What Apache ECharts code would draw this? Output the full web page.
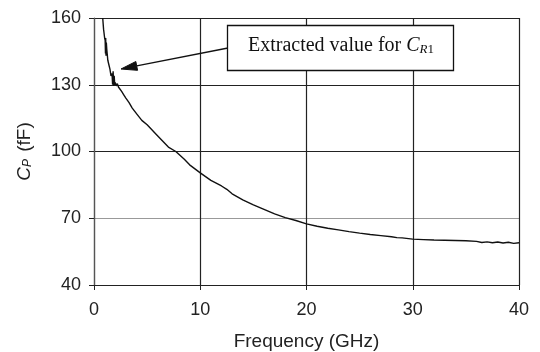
<!DOCTYPE html>
<html lang="en">
<head>
<meta charset="UTF-8">
<title>CP vs frequency</title>
<script src="https://cdn.jsdelivr.net/npm/echarts@6/dist/echarts.min.js"></script>
<style>html,body{margin:0;padding:0;background:#fff;}</style>
</head>
<body>
<div id="main" style="width:540px;height:352px;"></div>
<script>
// values
var freq = [0.82,0.9,1.0,1.05,1.08,1.1,1.13,1.16,1.2,1.3,1.4,1.5,1.6,1.7,1.75,1.8,1.85,1.9,1.95,2.0,2.1,2.2,2.3,2.4,2.6,2.8,3.0,3.3,3.6,4.0,4.5,5.0,5.6,6.0,6.5,7.0,7.7,8.5,9.0,10,11,12,12.5,13,14,15,16,17,18,19,20,21,22,23,24,25,26,27,28,28.5,29,30,31,32,33,34,35,36,36.5,37,37.5,38,38.5,39,39.5,40];
var cp = [160,155,151,150,144,151,143,149,146,141,139,137,134,135,130,136,129.5,134,130,131,129.5,130.5,129,128.5,127,125.5,124,122,119.5,117,114,112,109,107,104.5,102,100,96.5,94,90.4,87,84.5,83,81,78.3,76,74,72,70.3,69,67.5,66.4,65.5,64.8,64,63.3,62.7,62.2,61.7,61.3,61.2,60.6,60.4,60.2,60.1,60,59.9,59.6,59.1,59.4,59,59.3,58.9,59.2,58.7,59];
var yTicks = [40, 70, 100, 130, 160];
var xTicks = [0, 10, 20, 30, 40];
var noteText = 'Extracted value for ';

var myChart = echarts.init(document.getElementById('main'));

var pts = [];
for (var i = 0; i < freq.length; i++) {
    pts.push([freq[i], cp[i]]);
}

// arrow from the note box to the spike
var tail = [228, 48], tip = [121, 69];
var dx = tail[0] - tip[0], dy = tail[1] - tip[1];
var len = Math.sqrt(dx * dx + dy * dy);
var ux = dx / len, uy = dy / len;
var bx = tip[0] + ux * 16, by = tip[1] + uy * 16;
var head = [tip, [bx - uy * 4.5, by + ux * 4.5], [bx + uy * 4.5, by - ux * 4.5]];

var font = 'Liberation Sans, Arial, sans-serif';
var serif = 'Liberation Serif, Times New Roman, serif';

var option = {
    backgroundColor: '#fff',
    animation: false,
    grid: {left: 94, right: 21, top: 18, bottom: 67, containLabel: false, outerBoundsMode: 'none'},
    xAxis: {
        type: 'value',
        min: xTicks[0],
        max: xTicks[xTicks.length - 1],
        interval: 10,
        name: 'Frequency (GHz)',
        nameLocation: 'middle',
        nameGap: 47,
        nameTextStyle: {color: '#222', fontSize: 19, fontFamily: font},
        axisLine: {show: true, onZero: false, lineStyle: {color: '#222', width: 1.2}},
        axisTick: {show: true, length: 5, lineStyle: {color: '#222'}},
        axisLabel: {color: '#222', fontSize: 18, fontFamily: font, margin: 16},
        splitLine: {show: true, lineStyle: {color: '#222', width: 1.2}}
    },
    yAxis: {
        type: 'value',
        min: yTicks[0],
        max: yTicks[yTicks.length - 1],
        interval: 30,
        name: '{i|C}{s|P}{n| (fF)}',
        nameLocation: 'middle',
        nameRotate: 90,
        nameGap: 60,
        nameTextStyle: {
            color: '#222', fontSize: 19, fontFamily: font,
            rich: {
                i: {fontSize: 19, fontStyle: 'italic', fontFamily: font, color: '#222', lineHeight: 24, verticalAlign: 'bottom'},
                s: {fontSize: 12, fontStyle: 'italic', fontFamily: font, color: '#222', lineHeight: 24, verticalAlign: 'bottom', padding: [0, 2, 0, 0]},
                n: {fontSize: 19, fontFamily: font, color: '#222', lineHeight: 24, verticalAlign: 'bottom'}
            }
        },
        axisLine: {show: true, onZero: false, lineStyle: {color: '#555', width: 1.2}},
        axisTick: {show: true, length: 5, lineStyle: {color: '#222'}},
        axisLabel: {color: '#222', fontSize: 18, fontFamily: font, margin: 13},
        splitLine: {show: true, lineStyle: {color: ['#222', '#999', '#222', '#222', '#222'], width: 1.2}}
    },
    series: [{
        type: 'line',
        data: pts,
        showSymbol: false,
        symbol: 'none',
        lineStyle: {color: '#111', width: 1.4},
        clip: true,
        z: 5
    }],
    graphic: [
        {
            type: 'polyline',
            shape: {points: [tail, [bx, by]]},
            style: {stroke: '#111', lineWidth: 1.3, fill: null},
            z: 10
        },
        {
            type: 'polygon',
            shape: {points: head},
            style: {fill: '#111', stroke: '#111', lineWidth: 1},
            z: 10
        },
        {
            type: 'rect',
            shape: {x: 227.5, y: 25.5, width: 226, height: 45},
            style: {fill: '#fff', stroke: '#111', lineWidth: 1.3},
            z: 10
        },
        {
            type: 'text',
            left: 248,
            top: 36,
            z: 11,
            style: {
                text: '{t|' + noteText + '}{c|C}{r|R}{o|1}',
                rich: {
                    t: {fontFamily: serif, fontSize: 20, fill: '#111', lineHeight: 22, verticalAlign: 'bottom'},
                    c: {fontFamily: serif, fontSize: 20, fontStyle: 'italic', fill: '#111', lineHeight: 22, verticalAlign: 'bottom'},
                    r: {fontFamily: serif, fontSize: 13, fontStyle: 'italic', fill: '#111', lineHeight: 18, verticalAlign: 'bottom'},
                    o: {fontFamily: serif, fontSize: 13, fill: '#111', lineHeight: 18, verticalAlign: 'bottom'}
                }
            }
        }
    ]
};

myChart.setOption(option);
</script>
</body>
</html>
